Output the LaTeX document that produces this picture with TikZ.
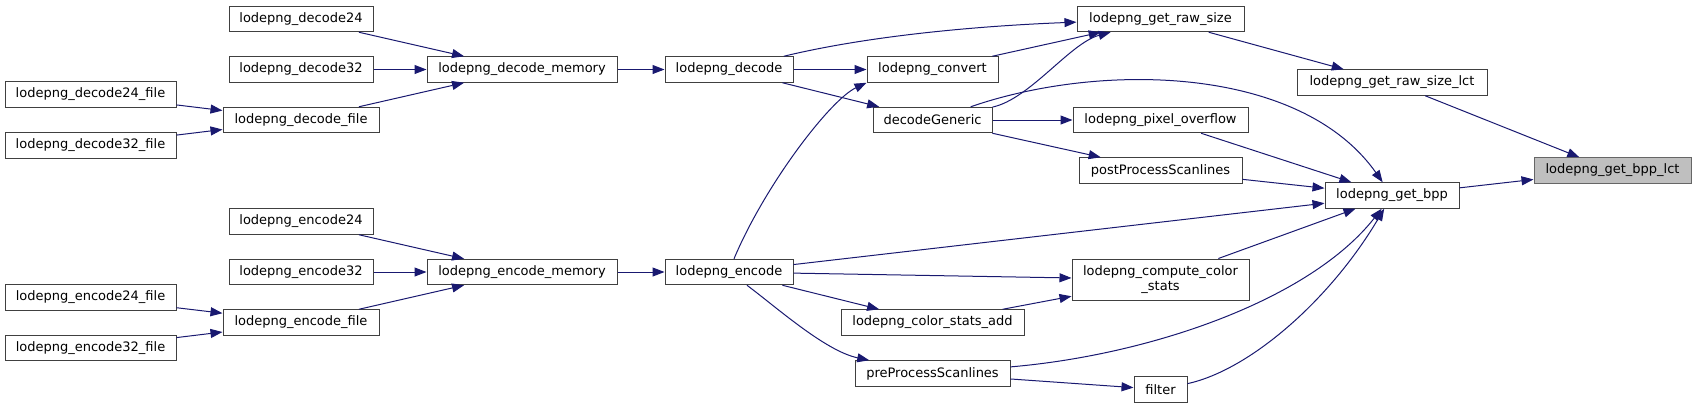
\documentclass[tikz,border=0pt]{standalone}
\usepackage{fontspec}
\setmainfont{DejaVu Sans}
\usepackage{tikz}
\usetikzlibrary{arrows.meta}
\definecolor{edgeblue}{HTML}{191970}
\definecolor{boxborder}{HTML}{404040}
\definecolor{rootfill}{HTML}{BFBFBF}
\definecolor{rootborder}{HTML}{666666}

\begin{document}
\begin{tikzpicture}[
  x=1pt, y=-1pt,
  fnbox/.style={rectangle, draw=boxborder, fill=white, line width=1pt, font=\fontsize{13}{15}\selectfont, minimum height=25.5pt, inner sep=0pt, align=center},
  rootbox/.style={fnbox, draw=rootborder, fill=rootfill},
  callarrow/.style={-{Triangle[length=12pt,width=9pt]}, line width=1pt, draw=edgeblue}
]
  \useasboundingbox (0,0) rectangle (1696,408);

  % Decode side
  \node[fnbox, minimum width=144pt] (dec24) at (301,19) {lodepng\_decode24};
  \node[fnbox, minimum width=144pt] (dec32) at (301,69.5) {lodepng\_decode32};
  \node[fnbox, minimum width=190pt] (decmem) at (522,69.5) {lodepng\_decode\_memory};
  \node[fnbox, minimum width=171pt] (dec24file) at (90.5,94.5) {lodepng\_decode24\_file};
  \node[fnbox, minimum width=156pt] (decfile) at (301,120) {lodepng\_decode\_file};
  \node[fnbox, minimum width=171pt] (dec32file) at (90.5,145.5) {lodepng\_decode32\_file};
  \node[fnbox, minimum width=128pt] (ldecode) at (729,69.5) {lodepng\_decode};
  \node[fnbox, minimum width=131pt] (lconvert) at (932.5,69.5) {lodepng\_convert};
  \node[fnbox, minimum width=119pt] (decgen) at (932.5,120) {decodeGeneric};

  % Encode side
  \node[fnbox, minimum width=144pt] (enc24) at (301,221.5) {lodepng\_encode24};
  \node[fnbox, minimum width=144pt] (enc32) at (301,272) {lodepng\_encode32};
  \node[fnbox, minimum width=190pt] (encmem) at (522,272) {lodepng\_encode\_memory};
  \node[fnbox, minimum width=171pt] (enc24file) at (90.5,297.5) {lodepng\_encode24\_file};
  \node[fnbox, minimum width=156pt] (encfile) at (301,322.5) {lodepng\_encode\_file};
  \node[fnbox, minimum width=171pt] (enc32file) at (90.5,348) {lodepng\_encode32\_file};
  \node[fnbox, minimum width=128pt] (lencode) at (729,272) {lodepng\_encode};
  \node[fnbox, minimum width=183pt] (statsadd) at (932.5,322.5) {lodepng\_color\_stats\_add};
  \node[fnbox, minimum width=155pt] (preproc) at (932.5,373.5) {preProcessScanlines};

  % Middle and right columns
  \node[fnbox, minimum width=167pt] (rawsize) at (1160.5,19) {lodepng\_get\_raw\_size};
  \node[fnbox, minimum width=175pt] (pixover) at (1160.5,120) {lodepng\_pixel\_overflow};
  \node[fnbox, minimum width=163pt] (postproc) at (1160.5,170.5) {postProcessScanlines};
  \node[fnbox, minimum width=177pt, minimum height=41pt] (colorstats) at (1160.5,279.5) {lodepng\_compute\_color\\\_stats};
  \node[fnbox, minimum width=53pt] (filter) at (1160.5,389.5) {filter};
  \node[fnbox, minimum width=190pt] (rawsizelct) at (1392,82.5) {lodepng\_get\_raw\_size\_lct};
  \node[fnbox, minimum width=134pt] (getbpp) at (1392,195.5) {lodepng\_get\_bpp};
  \node[rootbox, minimum width=157pt] (bpplct) at (1612.5,170.5) {lodepng\_get\_bpp\_lct};

  % Calls into decode
  \draw[callarrow] (dec24) -- (decmem);
  \draw[callarrow] (dec32) -- (decmem);
  \draw[callarrow] (decfile) -- (decmem);
  \draw[callarrow] (dec24file) -- (decfile);
  \draw[callarrow] (dec32file) -- (decfile);
  \draw[callarrow] (decmem) -- (ldecode);
  \draw[callarrow] (ldecode) -- (lconvert);
  \draw[callarrow] (ldecode) -- (decgen);
  \draw[callarrow] (ldecode) .. controls (880,33) and (1000,25) .. (rawsize);
  \draw[callarrow] (lconvert) -- (rawsize);
  \draw[callarrow] (decgen) .. controls (1030,99) and (1070,43) .. (rawsize);
  \draw[callarrow] (decgen) .. controls (1100,62) and (1300,65) .. (getbpp);
  \draw[callarrow] (decgen) -- (pixover);
  \draw[callarrow] (decgen) -- (postproc);

  % Calls into encode
  \draw[callarrow] (enc24) -- (encmem);
  \draw[callarrow] (enc32) -- (encmem);
  \draw[callarrow] (encfile) -- (encmem);
  \draw[callarrow] (enc24file) -- (encfile);
  \draw[callarrow] (enc32file) -- (encfile);
  \draw[callarrow] (encmem) -- (lencode);
  \draw[callarrow] ([xshift=5pt]lencode.north) .. controls (765,185) and (830,100) .. (lconvert.south west);
  \draw[callarrow] (lencode) -- (getbpp);
  \draw[callarrow] (lencode) -- (colorstats);
  \draw[callarrow] (lencode) -- (statsadd);
  \draw[callarrow] (lencode) .. controls (775,306) and (825,351) .. (preproc);
  \draw[callarrow] (statsadd) -- (colorstats);

  % Towards the root
  \draw[callarrow] (rawsize) -- (rawsizelct);
  \draw[callarrow] (rawsizelct) -- (bpplct);
  \draw[callarrow] (pixover) -- (getbpp);
  \draw[callarrow] (postproc) -- (getbpp);
  \draw[callarrow] (colorstats) -- (getbpp);
  \draw[callarrow] (preproc) .. controls (1150,355) and (1310,300) .. (getbpp);
  \draw[callarrow] (preproc) -- (filter);
  \draw[callarrow] (filter) .. controls (1250,370) and (1330,300) .. (getbpp);
  \draw[callarrow] (getbpp) -- (bpplct);
\end{tikzpicture}
\end{document}
